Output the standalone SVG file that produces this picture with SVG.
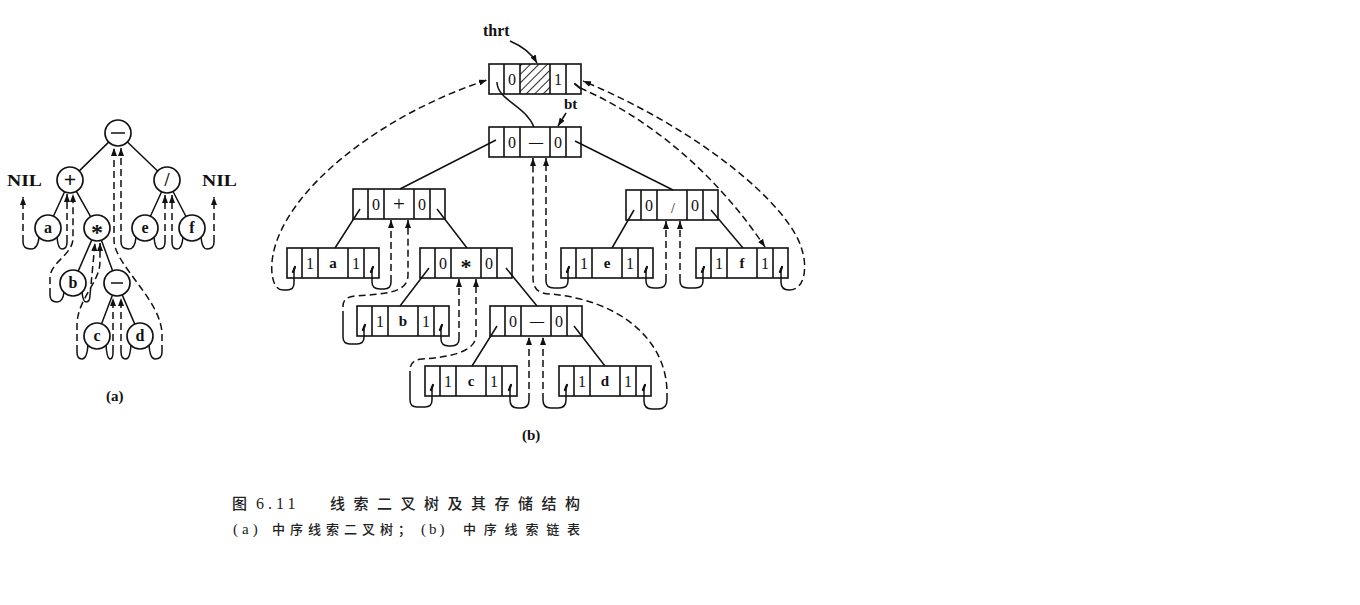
<svg xmlns="http://www.w3.org/2000/svg" width="1360" height="605" viewBox="0 0 1360 605">
<style>
.box{fill:none;stroke:#111;stroke-width:1.6}
.ln{fill:none;stroke:#111;stroke-width:1.5}
.ds{fill:none;stroke:#111;stroke-width:1.5;stroke-dasharray:7 4}
.tk{fill:none;stroke:#111;stroke-width:2.2;stroke-linecap:round}
.t{font-family:"Liberation Serif",serif;font-size:16px;fill:#111;text-anchor:middle}
.tb{font-family:"Liberation Serif",serif;font-size:15px;font-weight:bold;fill:#111;text-anchor:middle}
.lab{font-family:"Liberation Serif",serif;font-weight:bold;fill:#111}
.cn{font-family:"Noto Sans CJK SC",sans-serif;fill:#222;font-weight:500}
.cir{fill:#fff;stroke:#111;stroke-width:1.7}
</style>
<defs>
<marker id="ah" markerUnits="userSpaceOnUse" markerWidth="8" markerHeight="6" refX="8" refY="3" orient="auto">
<path d="M0,0 L8,3 L0,6 Z" fill="#111"/>
</marker>
<pattern id="hatch" patternUnits="userSpaceOnUse" width="6" height="6" patternTransform="rotate(45)">
<line x1="0" y1="0" x2="0" y2="6" stroke="#111" stroke-width="1.8"/>
</pattern>
<g id="cell">
<rect x="0" y="0" width="92" height="30" class="box"/>
<path d="M15,0 V30 M31,0 V30 M61,0 V30 M77,0 V30" class="box"/>
</g>
</defs>
<rect width="1360" height="605" fill="#fff"/>

<!-- ===== (a) tree ===== -->
<g id="a-edges">
<path class="ln" d="M108.7,142.1 L79.3,170.9 M127.4,142 L157.6,171 M64.6,191.8 L53.4,216.2 M76.4,191.3 L90.6,216.7 M91.8,239.9 L78.2,271.1 M101.4,240.2 L112.6,270.8 M112.4,295.2 L101.6,323.8 M122.2,294.9 L134.8,324.1 M161.6,191.8 L150.4,216.2 M173,191.5 L186,216.5"/>
</g>
<g id="a-threads">
<path class="ln" d="M39,237 Q38,249 31,249 Q23,249 23,242"/>
<path class="ds" d="M23,242 L23,197" marker-end="url(#ah)"/>
<path class="ln" d="M57,237 Q58,249 62,249 Q67,249 67,242"/>
<path class="ds" d="M67,242 L67,194" marker-end="url(#ah)"/>
<path class="ln" d="M64,292 Q63,302 57,302 Q50,302 50,295"/>
<path class="ds" d="M50,295 L50,278 C50,262 73,255 73,238 L73,194" marker-end="url(#ah)"/>
<path class="ln" d="M82,292 Q83,302 86,302 Q90,302 90,295"/>
<path class="ds" d="M90,295 L95,243" marker-end="url(#ah)"/>
<path class="ln" d="M88,345 Q87,359 82,359 Q77,359 77,352"/>
<path class="ds" d="M77,352 L77,325 C77,300 100,282 100,262 L100,243" marker-end="url(#ah)"/>
<path class="ln" d="M106,345 Q107,359 110,359 Q113,359 113,352"/>
<path class="ds" d="M113,352 L113,298" marker-end="url(#ah)"/>
<path class="ln" d="M131,345 Q130,359 126,359 Q121,359 121,352"/>
<path class="ds" d="M121,352 L121,298" marker-end="url(#ah)"/>
<path class="ln" d="M149,345 Q150,359 155,359 Q162,359 162,352"/>
<path class="ds" d="M162,352 L162,335 C162,300 114,265 114,240 L114,148" marker-end="url(#ah)"/>
<path class="ln" d="M136,237 Q135,249 129,249 Q121,249 121,242"/>
<path class="ds" d="M121,242 L121,148" marker-end="url(#ah)"/>
<path class="ln" d="M154,237 Q155,249 159,249 Q165,249 165,242"/>
<path class="ds" d="M165,242 L165,195" marker-end="url(#ah)"/>
<path class="ln" d="M183,237 Q182,249 177,249 Q172,249 172,242"/>
<path class="ds" d="M172,242 L172,195" marker-end="url(#ah)"/>
<path class="ln" d="M201,237 Q202,249 207,249 Q214,249 214,242"/>
<path class="ds" d="M214,242 L214,197" marker-end="url(#ah)"/>
</g>
<g id="a-root"><circle class="cir" cx="118" cy="133" r="13"/><path class="ln" d="M111,133 H125" stroke-width="2.2"/></g>
<g id="a-plus"><circle class="cir" cx="70" cy="180" r="13"/><text class="tb" x="70" y="187" style="font-size:22px">+</text></g>
<g id="a-slash"><circle class="cir" cx="167" cy="180" r="13"/><text class="tb" x="167" y="186" style="font-size:18px">/</text></g>
<g id="a-a"><circle class="cir" cx="48" cy="228" r="13"/><text class="tb" x="48" y="233" style="font-size:16px">a</text></g>
<g id="a-star"><circle class="cir" cx="97" cy="228" r="13"/><text class="tb" x="97" y="240" style="font-size:24px">*</text></g>
<g id="a-e"><circle class="cir" cx="145" cy="228" r="13"/><text class="tb" x="145" y="233" style="font-size:16px">e</text></g>
<g id="a-f"><circle class="cir" cx="192" cy="228" r="13"/><text class="tb" x="192" y="233" style="font-size:16px">f</text></g>
<g id="a-b"><circle class="cir" cx="73" cy="283" r="13"/><text class="tb" x="73" y="288" style="font-size:16px">b</text></g>
<g id="a-minus"><circle class="cir" cx="117" cy="283" r="13"/><path class="ln" d="M111,283 H123" stroke-width="2.2"/></g>
<g id="a-c"><circle class="cir" cx="97" cy="336" r="13"/><text class="tb" x="97" y="341" style="font-size:16px">c</text></g>
<g id="a-d"><circle class="cir" cx="140" cy="336" r="13"/><text class="tb" x="140" y="341" style="font-size:16px">d</text></g>
<g id="a-nil">
<text class="lab" x="7" y="186" font-size="17" textLength="35" lengthAdjust="spacingAndGlyphs">NIL</text>
<text class="lab" x="202" y="186" font-size="17" textLength="35" lengthAdjust="spacingAndGlyphs">NIL</text>
</g>
<text class="lab" x="106" y="401" font-size="15">(a)</text>

<!-- ===== (b) storage ===== -->
<g id="b-links">
<path class="ln" d="M497,82 C497,100 525,105 534,127" />
<path class="ln" d="M496,140 L400,189 M575,141 L673,190 M360,209 L335,248 M437,209 L467,248 M429,268 L400,306 M506,268 L537,306 M497,326 L472,366 M574,326 L605,366 M634,210 L612,248 M711,210 L743,248"/>
<path class="ln" d="M510,41 C524,47 532,54 537,63" marker-end="url(#ah)"/>
<path class="ln" d="M566,113 L558,126" marker-end="url(#ah)"/>
</g>
<g id="b-threads">
<path class="ln" d="M294,268 L294,283 Q294,290 287,290 L283,290"/>
<path class="ds" d="M283,290 C272,290 270,270 273,255 C285,190 380,115 487,80" marker-end="url(#ah)"/>
<path class="ln" d="M372,268 L372,282 Q372,289 380,289 L384,289 Q391,289 391,282"/>
<path class="ds" d="M391,282 L391,220" marker-end="url(#ah)"/>
<path class="ln" d="M364,326 L364,337 Q364,344 357,344 L350,344 Q343,344 343,337 L343,318"/>
<path class="ds" d="M343,318 L343,306 Q343,297 355,296 C385,294 408,293 408,275 L408,220" marker-end="url(#ah)"/>
<path class="ln" d="M441,326 L441,339 Q441,346 449,346 L451,346 Q459,346 459,339"/>
<path class="ds" d="M459,339 L459,279" marker-end="url(#ah)"/>
<path class="ln" d="M432,386 L432,400 Q432,407 425,407 L417,407 Q410,407 410,400 L410,378"/>
<path class="ds" d="M410,378 L410,370 Q410,360 422,359 C450,357 476,352 476,335 L476,279" marker-end="url(#ah)"/>
<path class="ln" d="M510,386 L510,400 Q510,408 518,408 L521,408 Q529,408 529,400"/>
<path class="ds" d="M529,400 L529,337" marker-end="url(#ah)"/>
<path class="ln" d="M566,386 L566,400 Q566,408 558,408 L551,408 Q543,408 543,400"/>
<path class="ds" d="M543,400 L543,337" marker-end="url(#ah)"/>
<path class="ln" d="M644,386 L644,401 Q644,409 652,409 L658,409 Q667,409 667,400"/>
<path class="ds" d="M667,400 L667,393 C667,340 620,300 550,294 Q533,294 533,278 L533,158" marker-end="url(#ah)"/>
<path class="ln" d="M568,268 L568,281 Q568,288 560,288 L554,288 Q546,288 546,281"/>
<path class="ds" d="M546,281 L546,158" marker-end="url(#ah)"/>
<path class="ln" d="M646,268 L646,281 Q646,288 654,288 L658,288 Q666,288 666,281"/>
<path class="ds" d="M666,281 L666,221" marker-end="url(#ah)"/>
<path class="ln" d="M703,268 L703,281 Q703,288 695,288 L688,288 Q680,288 680,281"/>
<path class="ds" d="M680,281 L680,221" marker-end="url(#ah)"/>
<path class="ln" d="M781,268 L781,282 Q781,290 789,290"/>
<path class="ds" d="M789,290 C806,290 807,265 802,250 C790,205 700,130 583,81" marker-end="url(#ah)"/>
<path class="tk" d="M575,84 L580,88"/>
<path class="ds" d="M580,88 C620,105 700,150 765,247" marker-end="url(#ah)"/>
<path class="tk" d="M295,267 L293,272 M373,267 L371,272 M365,325 L363,330 M442,325 L440,330 M433,385 L431,390 M511,385 L509,390 M567,385 L565,390 M645,385 L643,390 M569,267 L567,272 M647,267 L645,272 M704,267 L702,272 M782,267 L780,272"/>
</g>

<g id="n-head">
<rect x="520" y="64" width="30" height="30" fill="url(#hatch)"/>
<use href="#cell" x="489" y="64"/>
<text class="t" x="512" y="85">0</text><text class="t" x="558" y="85">1</text>
</g>
<g id="n-root"><use href="#cell" x="489" y="127"/>
<text class="t" x="512" y="148">0</text><text class="tb" x="536" y="147" style="font-size:14px">—</text><text class="t" x="558" y="148">0</text></g>
<g id="n-plus"><use href="#cell" x="353" y="189"/>
<text class="t" x="376" y="210">0</text><text class="t" x="399" y="211" style="font-size:21px">+</text><text class="t" x="422" y="210">0</text></g>
<g id="n-slash"><use href="#cell" x="626" y="190"/>
<text class="t" x="649" y="211">0</text><text class="t" x="673" y="213" style="font-size:14px">/</text><text class="t" x="695" y="211">0</text></g>
<g id="n-a"><use href="#cell" x="287" y="248"/>
<text class="t" x="310" y="269">1</text><text class="tb" x="333" y="268">a</text><text class="t" x="356" y="269">1</text></g>
<g id="n-star"><use href="#cell" x="420" y="248"/>
<text class="t" x="443" y="269">0</text><text class="tb" x="466" y="274" style="font-size:22px">*</text><text class="t" x="489" y="269">0</text></g>
<g id="n-e"><use href="#cell" x="561" y="248"/>
<text class="t" x="584" y="269">1</text><text class="tb" x="607" y="268">e</text><text class="t" x="630" y="269">1</text></g>
<g id="n-f"><use href="#cell" x="696" y="248"/>
<text class="t" x="719" y="269">1</text><text class="tb" x="742" y="268">f</text><text class="t" x="765" y="269">1</text></g>
<g id="n-b"><use href="#cell" x="357" y="306"/>
<text class="t" x="380" y="327">1</text><text class="tb" x="403" y="326">b</text><text class="t" x="426" y="327">1</text></g>
<g id="n-minus"><use href="#cell" x="490" y="306"/>
<text class="t" x="513" y="327">0</text><text class="tb" x="537" y="326" style="font-size:14px">—</text><text class="t" x="559" y="327">0</text></g>
<g id="n-c"><use href="#cell" x="425" y="366"/>
<text class="t" x="448" y="387">1</text><text class="tb" x="471" y="386">c</text><text class="t" x="494" y="387">1</text></g>
<g id="n-d"><use href="#cell" x="559" y="366"/>
<text class="t" x="582" y="387">1</text><text class="tb" x="605" y="386">d</text><text class="t" x="628" y="387">1</text></g>

<text class="lab" x="483" y="36" font-size="16">thrt</text>
<text class="lab" x="564" y="109" font-size="15">bt</text>
<text class="lab" x="522" y="440" font-size="15">(b)</text>

<g id="caption">
<text class="cn" x="232" y="509" font-size="15">图</text>
<text x="256" y="509" font-family="Liberation Serif, serif" font-size="16" fill="#222" letter-spacing="4">6.11</text>
<text class="cn" x="330" y="509" font-size="15" letter-spacing="8.5">线索二叉树及其存储结构</text>
<text x="233" y="534" font-family="Liberation Serif, serif" font-size="15" fill="#222" letter-spacing="4">(a)</text>
<text class="cn" x="272" y="534" font-size="13" letter-spacing="5">中序线索二叉树；</text>
<text x="421" y="534" font-family="Liberation Serif, serif" font-size="15" fill="#222" letter-spacing="3">(b)</text>
<text class="cn" x="463" y="534" font-size="13" letter-spacing="7.8">中序线索链表</text>
</g>
</svg>
